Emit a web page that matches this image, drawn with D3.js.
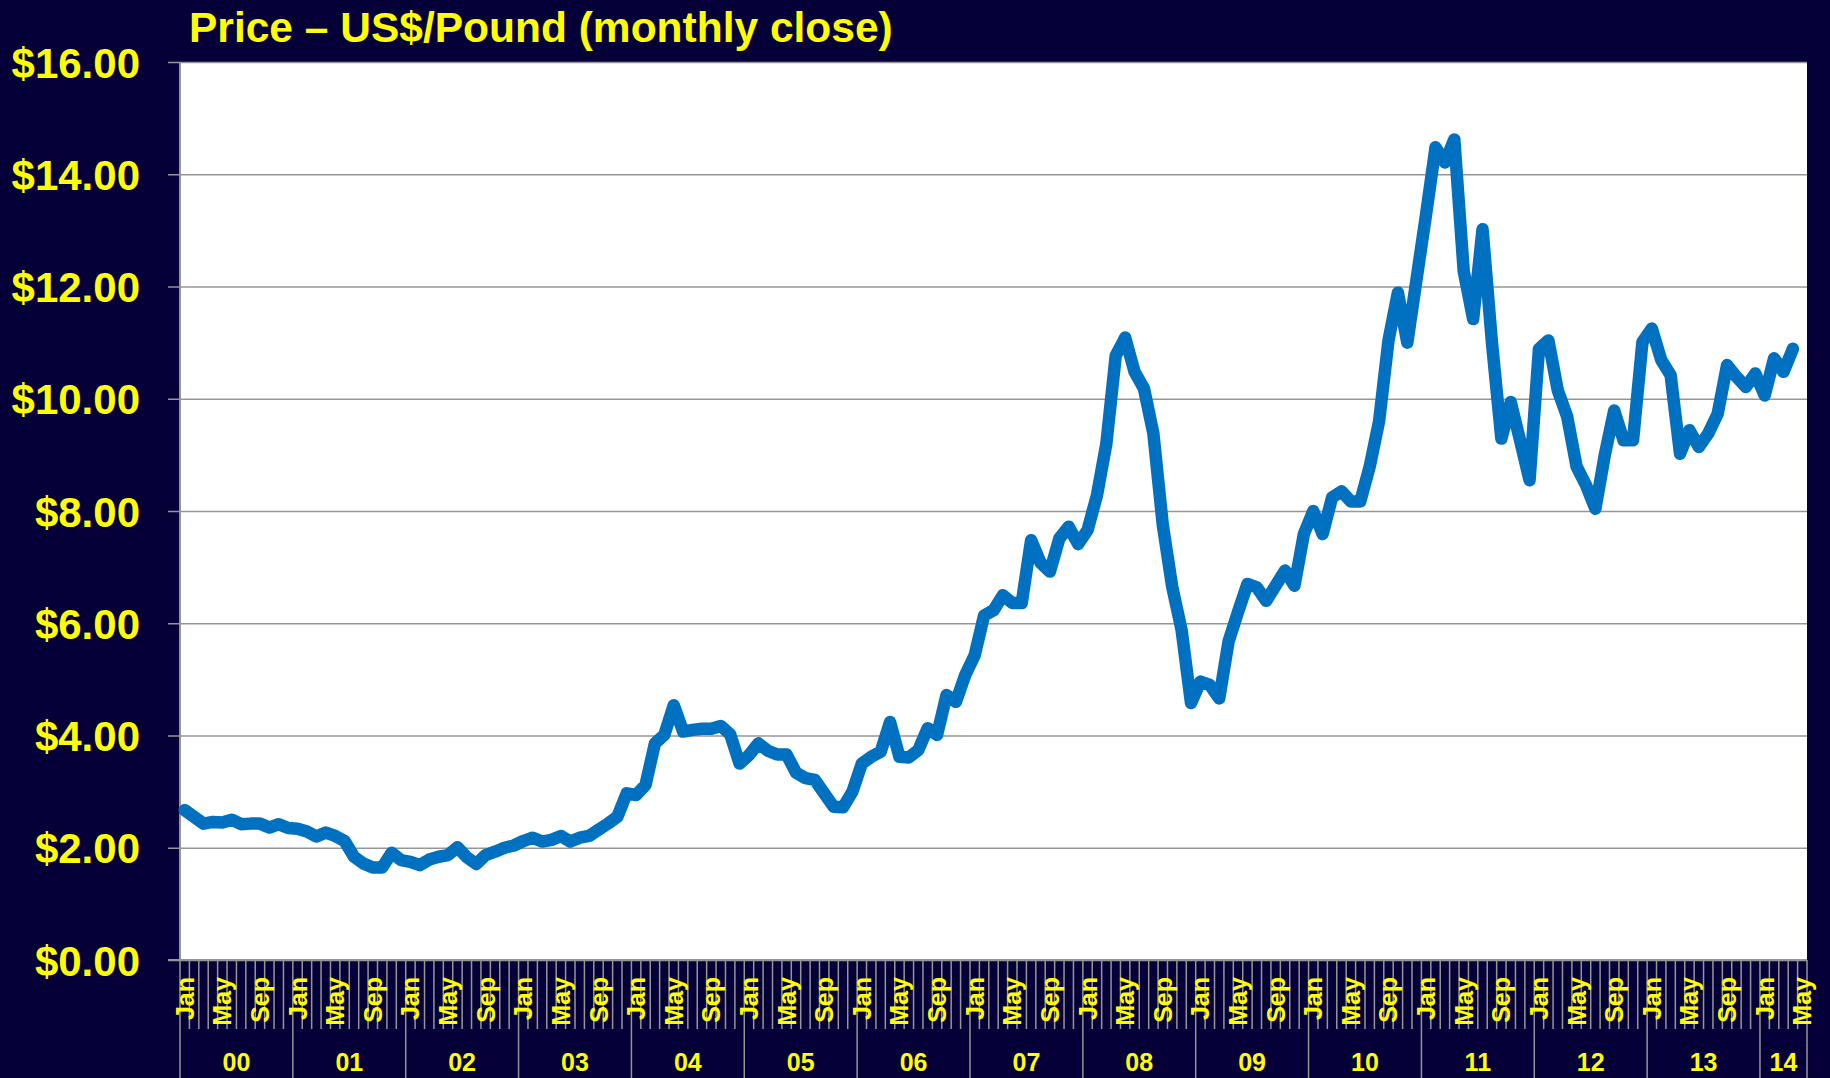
<!DOCTYPE html>
<html>
<head>
<meta charset="utf-8">
<script src="https://cdn.jsdelivr.net/npm/d3@7"></script>
<style>
html, body { margin: 0; padding: 0; background: #050038; }
svg { display: block; }
text { font-family: "Liberation Sans", Arial, sans-serif; font-weight: bold; fill: #ffff00; }
.title { font-size: 42.5px; }
.y-axis text { font-size: 42px; }
.month-label { font-size: 25px; }
.year-label { font-size: 25px; }
</style>
</head>
<body>
<svg width="1830" height="1078"></svg>
<script>
// Years shown on the axis and month names
var years = ["00", "01", "02", "03", "04", "05", "06", "07", "08", "09", "10", "11", "12", "13", "14"];
var monthNames = ["Jan", "Feb", "Mar", "Apr", "May", "Jun", "Jul", "Aug", "Sep", "Oct", "Nov", "Dec"];
var labelledMonths = ["Jan", "May", "Sep"];
var lastCategory = "May 14";
var yTicks = [0, 2, 4, 6, 8, 10, 12, 14, 16];

// monthly close, US$/pound, Jan 2000 .. Apr 2014
var prices = [
    2.67, 2.55, 2.43, 2.46, 2.45, 2.50, 2.42, 2.43, 2.43, 2.36, 2.42, 2.35,   // 2000
    2.34, 2.29, 2.20, 2.27, 2.21, 2.12, 1.84, 1.72, 1.65, 1.65, 1.91, 1.78,   // 2001
    1.75, 1.69, 1.79, 1.84, 1.87, 2.01, 1.83, 1.71, 1.87, 1.93, 2.00, 2.04,   // 2002
    2.12, 2.18, 2.11, 2.14, 2.21, 2.11, 2.18, 2.21, 2.32, 2.43, 2.55, 2.97,   // 2003
    2.94, 3.12, 3.86, 4.01, 4.54, 4.07, 4.10, 4.12, 4.12, 4.17, 4.02, 3.50,   // 2004
    3.65, 3.86, 3.73, 3.66, 3.66, 3.34, 3.24, 3.21, 2.97, 2.73, 2.72, 3.00,   // 2005
    3.50, 3.62, 3.71, 4.24, 3.62, 3.61, 3.74, 4.13, 4.01, 4.72, 4.60, 5.08,   // 2006
    5.43, 6.14, 6.23, 6.50, 6.36, 6.36, 7.48, 7.08, 6.92, 7.51, 7.72, 7.41,   // 2007
    7.66, 8.28, 9.20, 10.77, 11.09, 10.48, 10.18, 9.38, 7.75, 6.65, 5.88, 4.58, // 2008
    4.96, 4.90, 4.66, 5.68, 6.20, 6.70, 6.64, 6.40, 6.67, 6.94, 6.67, 7.59,   // 2009
    8.00, 7.59, 8.24, 8.35, 8.17, 8.17, 8.79, 9.60, 11.04, 11.89, 11.00, 12.15, // 2010
    13.29, 14.48, 14.21, 14.62, 12.27, 11.42, 13.02, 11.00, 9.29, 9.94, 9.25, 8.55, // 2011
    10.89, 11.04, 10.15, 9.68, 8.79, 8.46, 8.04, 9.00, 9.79, 9.26, 9.26, 11.01, // 2012
    11.25, 10.69, 10.42, 9.02, 9.44, 9.14, 9.38, 9.73, 10.60, 10.39, 10.21, 10.45, // 2013
    10.06, 10.72, 10.48, 10.89                                                // 2014
];

// build the month categories (Jan 00 .. May 14)
var categories = [];
years.forEach(function (yr) {
    monthNames.forEach(function (m) { categories.push(m + " " + yr); });
});
categories = categories.slice(0, categories.indexOf(lastCategory) + 1);

var svg = d3.select("svg"),
    width = +svg.attr("width"),
    height = +svg.attr("height");

var plotLeft = 180, plotRight = 1807, plotTop = 62, plotBottom = 960;
var gridColor = "#969696";

var x = d3.scaleBand()
    .domain(categories)
    .range([plotLeft, plotRight])
    .padding(0);

var y = d3.scaleLinear()
    .domain([0, 16])
    .range([plotBottom, plotTop]);

// background and plot area
svg.append("rect")
    .attr("width", width)
    .attr("height", height)
    .attr("fill", "#050038");

svg.append("rect")
    .attr("x", plotLeft)
    .attr("y", plotTop)
    .attr("width", plotRight - plotLeft)
    .attr("height", plotBottom - plotTop)
    .attr("fill", "#ffffff");

// y axis with gridlines
svg.append("g")
    .attr("class", "y-axis")
    .attr("transform", "translate(168,0)")
    .call(d3.axisLeft(y)
        .tickValues(yTicks)
        .tickSize(-(plotRight - 168))
        .tickPadding(28)
        .tickFormat(function (d) { return "$" + d.toFixed(2); }))
    .call(function (g) { g.select(".domain").remove(); })
    .call(function (g) {
        g.selectAll("line").attr("stroke", gridColor).attr("stroke-width", 1.5);
        g.selectAll("text").attr("dy", "0.36em");
    });

// left and bottom axis lines
svg.append("line")
    .attr("x1", plotLeft).attr("x2", plotLeft)
    .attr("y1", plotTop).attr("y2", plotBottom)
    .attr("stroke", gridColor)
    .attr("stroke-width", 2);

svg.append("line")
    .attr("x1", 168).attr("x2", plotRight)
    .attr("y1", plotBottom).attr("y2", plotBottom)
    .attr("stroke", gridColor)
    .attr("stroke-width", 2);

// month tick marks at band edges, year separators run to the bottom
var edges = categories.map(function (c) { return { pos: x(c), yearStart: c.indexOf("Jan") === 0 }; });
edges.push({ pos: plotRight, yearStart: true });

svg.append("g")
    .selectAll("line")
    .data(edges)
    .enter()
    .append("line")
    .attr("x1", function (d) { return d.pos; })
    .attr("x2", function (d) { return d.pos; })
    .attr("y1", plotBottom)
    .attr("y2", function (d) { return d.yearStart ? height : 1029; })
    .attr("stroke", gridColor)
    .attr("stroke-width", 1.5);

// rotated month labels
var monthFont = 25;
svg.append("g")
    .selectAll("text")
    .data(categories.filter(function (c) { return labelledMonths.indexOf(c.split(" ")[0]) >= 0; }))
    .enter()
    .append("text")
    .attr("class", "month-label")
    .attr("text-anchor", "end")
    .attr("transform", function (c) {
        var cx = x(c) + x.bandwidth() / 2 + monthFont * 0.36;
        return "translate(" + cx + ",977) rotate(-90)";
    })
    .text(function (c) { return c.split(" ")[0]; });

// year labels centred under each year's months
svg.append("g")
    .selectAll("text")
    .data(years)
    .enter()
    .append("text")
    .attr("class", "year-label")
    .attr("text-anchor", "middle")
    .attr("x", function (yr) {
        var months = categories.filter(function (c) { return c.split(" ")[1] === yr; });
        var first = x(months[0]);
        var last = x(months[months.length - 1]) + x.bandwidth();
        return (first + last) / 2;
    })
    .attr("y", 1071)
    .text(function (yr) { return yr; });

// price line
var line = d3.line()
    .x(function (d, i) { return x(categories[i]) + x.bandwidth() / 2; })
    .y(function (d) { return y(d); });

svg.append("path")
    .datum(prices)
    .attr("d", line)
    .attr("fill", "none")
    .attr("stroke", "#0070c0")
    .attr("stroke-width", 12.5)
    .attr("stroke-linejoin", "round")
    .attr("stroke-linecap", "round");

// title
svg.append("text")
    .attr("class", "title")
    .attr("x", 189)
    .attr("y", 42)
    .text("Price \u2013 US$/Pound (monthly close)");
</script>
</body>
</html>
